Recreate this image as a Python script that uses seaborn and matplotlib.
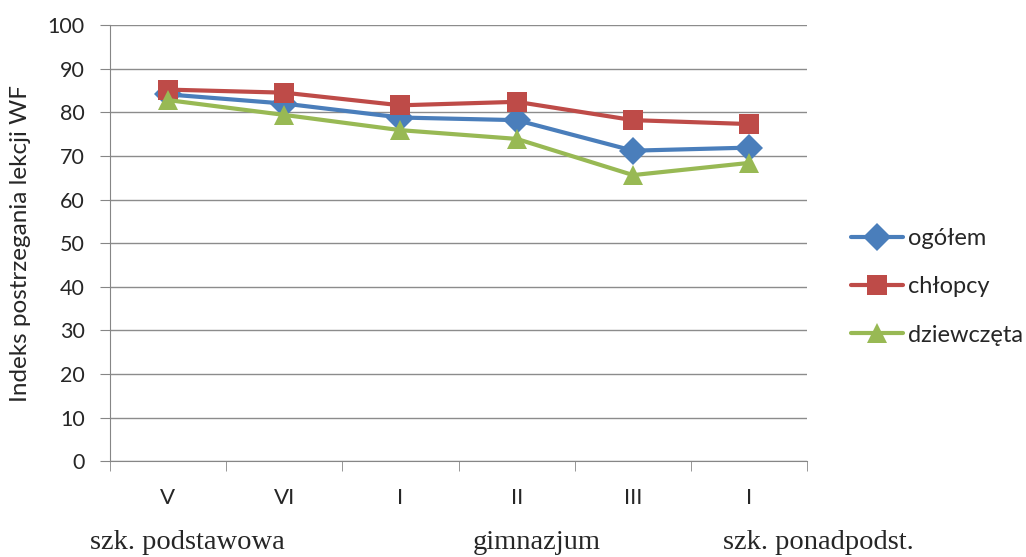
import pandas as pd
import seaborn as sns
import matplotlib.pyplot as plt
from matplotlib.ticker import FixedLocator

# data
classes = ["V", "VI", "I", "II", "III", "I"]
ogolem = [84.1, 82.0, 78.8, 78.2, 71.2, 71.9]
chlopcy = [85.2, 84.5, 81.6, 82.4, 78.2, 77.3]
dziewczeta = [82.8, 79.4, 75.9, 73.9, 65.6, 68.4]
series_names = ["ogółem", "chłopcy", "dziewczęta"]
school_groups = ["szk. podstawowa", "gimnazjum", "szk. ponadpodst."]

df = pd.DataFrame({
    "pos": list(range(len(classes))) * 3,
    "value": ogolem + chlopcy + dziewczeta,
    "series": [s for s in series_names for _ in classes],
})

sns.set_style("white")
plt.rcParams["font.family"] = ["Lato", "DejaVu Sans"]

fig = plt.figure(figsize=(10.26, 5.57), dpi=100)
ax = fig.add_axes([0.107, 0.172, 0.68, 0.783])

palette = {"ogółem": "#4A7EBB", "chłopcy": "#BE4B48", "dziewczęta": "#98B954"}
markers = {"ogółem": "D", "chłopcy": "s", "dziewczęta": "^"}
sns.lineplot(data=df, x="pos", y="value", hue="series", style="series",
             palette=palette, markers=markers, dashes=False, linewidth=3.0,
             markersize=14, markeredgewidth=0, ax=ax)

ax.set_xlim(-0.5, len(classes) - 0.5)
ax.set_ylim(0, 100)
ax.set_yticks(range(0, 101, 10))
ax.set_xticks(range(len(classes)))
ax.set_xticklabels(classes)
ax.xaxis.set_minor_locator(FixedLocator([i - 0.5 for i in range(len(classes) + 1)]))
ax.tick_params(axis="x", which="major", length=0, pad=19, labelsize=16)
ax.tick_params(axis="x", which="minor", length=7, color="#868686", direction="out", bottom=True)
ax.tick_params(axis="y", length=7, color="#868686", direction="out", left=True,
               labelsize=15.5, pad=11)
ax.grid(axis="y", color="#8C8C8C", linewidth=1)
ax.set_axisbelow(True)
for side in ["top", "right"]:
    ax.spines[side].set_visible(False)
for side in ["left", "bottom"]:
    ax.spines[side].set_color("#868686")
ax.set_xlabel("")
ax.set_ylabel("Indeks postrzegania lekcji WF", fontsize=17.5)
ax.yaxis.set_label_coords(-0.113, 0.5)

leg = ax.legend(loc="center left", bbox_to_anchor=(0.818, 0.485),
                bbox_transform=fig.transFigure, frameon=False, borderpad=0,
                fontsize=17, handlelength=2.2, labelspacing=1.15, handletextpad=0.2)
for h in leg.legend_handles:
    h.set_linewidth(3.0)
    h.set_markersize(14)

for label, xpos in zip(school_groups, [0.183, 0.523, 0.798]):
    fig.text(xpos, 0.026, label, ha="center", va="center",
             family="Liberation Serif", fontsize=20.5)

fig.savefig("out.png", dpi=100)
